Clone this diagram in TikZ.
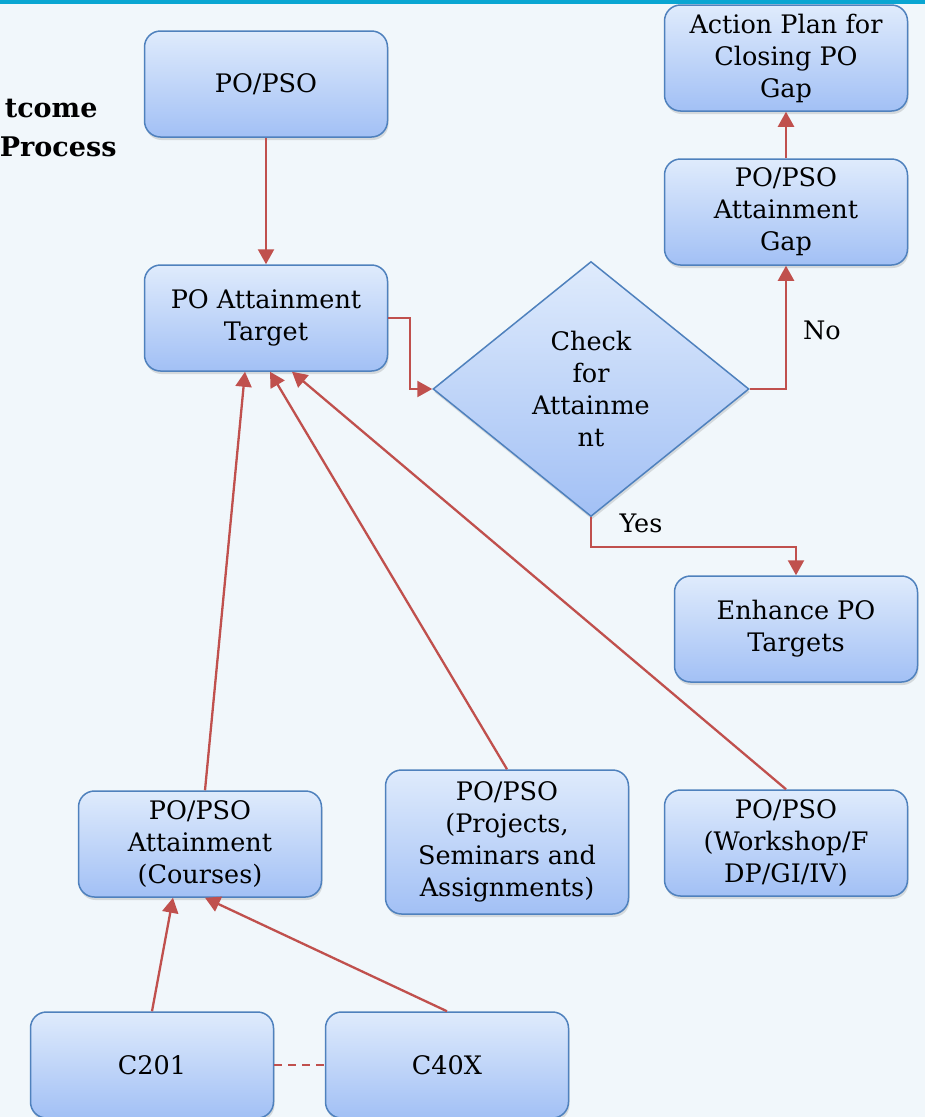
\documentclass[tikz,border=0pt]{standalone}
\usepackage{fontspec}
\setmainfont{DejaVu Serif}
\usetikzlibrary{shapes.geometric,arrows.meta,shadows}

\definecolor{boxtop}{HTML}{DFEBFC}
\definecolor{boxbottom}{HTML}{A2C0F5}
\definecolor{boxline}{HTML}{4F81BD}
\definecolor{linkred}{HTML}{C0504D}
\definecolor{page}{HTML}{F1F7FB}
\definecolor{band}{HTML}{0AA6D2}
\tikzset{
  block/.style={rectangle,rounded corners=16pt,draw=boxline,line width=1.5pt,
    top color=boxtop,bottom color=boxbottom,minimum width=243pt,
    minimum height=106pt,align=center,inner sep=2pt,
    font=\fontsize{25.5}{32}\selectfont,
    drop shadow={shadow xshift=1pt,shadow yshift=-3pt,opacity=0.25}},
  decide/.style={diamond,draw=boxline,line width=1.5pt,top color=boxtop,
    bottom color=boxbottom,minimum width=316pt,minimum height=255pt,
    inner sep=0pt,align=center,font=\fontsize{25.5}{32}\selectfont,
    drop shadow={shadow xshift=1pt,shadow yshift=-3pt,opacity=0.25}},
  link/.style={-{Triangle[width=16pt,length=15pt]},draw=linkred,line width=2.3pt},
  tag/.style={font=\fontsize{25.5}{32}\selectfont},
}

\begin{document}
\begin{tikzpicture}[x=1pt,y=-1pt]
    \useasboundingbox (0,0) rectangle (925,1117);
    \fill [page] (0,0) rectangle (925,1117);
    \fill [band] (0,0) rectangle (925,4);

    \node [anchor=base east,font=\fontsize{27}{30}\selectfont\bfseries]
      (ttl1) at (101,117) {tcome};
    \node [anchor=base east,font=\fontsize{27}{30}\selectfont\bfseries]
      (ttl2) at (120,156) {Process};

    \node [block] (pso) at (266,84) {PO/PSO};
    \node [block] (tgt) at (266,318) {PO Attainment\\Target};
    \node [decide] (chk) at (591,389) {Check\\for\\Attainme\\nt};
    \node [block] (gap) at (786,212) {PO/PSO\\Attainment\\Gap};
    \node [block] (act) at (786,58) {Action Plan for\\Closing PO\\Gap};
    \node [block] (enh) at (796,629) {Enhance PO\\Targets};
    \node [block] (cou) at (200,844) {PO/PSO\\Attainment\\(Courses)};
    \node [block,minimum height=144pt] (prj) at (507,842)
      {PO/PSO\\(Projects,\\Seminars and\\Assignments)};
    \node [block] (wks) at (786,843) {PO/PSO\\(Workshop/F\\DP/GI/IV)};
    \node [block] (c201) at (152,1065) {C201};
    \node [block] (c40) at (447,1065) {C40X};

    \draw [link] (pso) -- (tgt);
    \draw [link] (tgt.east) -- ++(22,0) |- (chk.west);
    \draw [link] (chk.east) -| (gap.south);
    \draw [link] (gap) -- (act);
    \draw [link] (chk.south) -- ++(0,30) -| (enh.north);
    \foreach \src/\sx/\dx in {cou/5/-21,prj/0/4,wks/0/26}
      \draw [link] ([xshift=\sx pt]\src.north) -- ([xshift=\dx pt]tgt.south);
    \draw [link] (c201.north) -- ([xshift=-27pt]cou.south);
    \draw [link] (c40.north) -- ([xshift=5pt]cou.south);
    \draw [linkred,line width=2.3pt,dash pattern=on 8pt off 6pt] (c201) -- (c40);

    \node [tag] (no) at (822,330) {No};
    \node [tag] (yes) at (641,523) {Yes};
\end{tikzpicture}
\end{document}
